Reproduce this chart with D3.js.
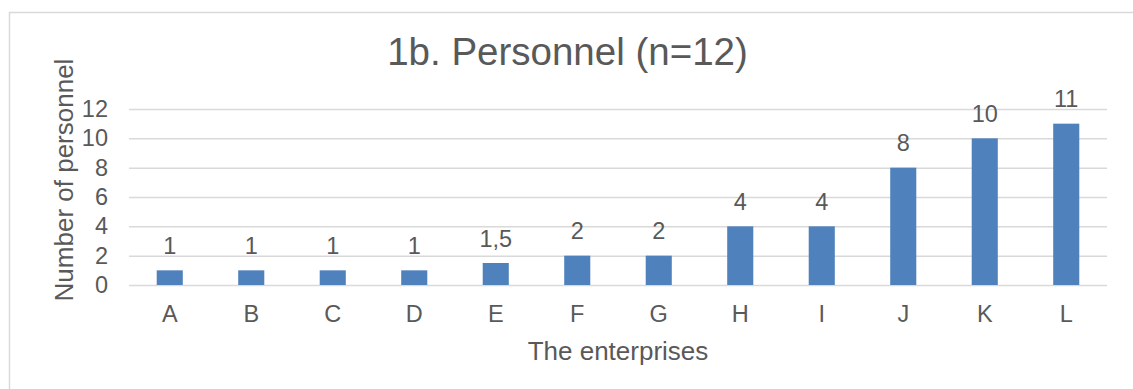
<!DOCTYPE html>
<html>
<head>
<meta charset="utf-8">
<script src="https://cdn.jsdelivr.net/npm/d3@7"></script>
<style>
  html, body { margin: 0; padding: 0; background: #fff; }
  svg { display: block; font-family: 'Liberation Sans', Arial, sans-serif; }
</style>
</head>
<body>
<div id="chart"></div>
<script>
// data
const enterprises = ['A', 'B', 'C', 'D', 'E', 'F', 'G', 'H', 'I', 'J', 'K', 'L'];
const personnel = [1, 1, 1, 1, 1.5, 2, 2, 4, 4, 8, 10, 11];
const yTicks = [0, 2, 4, 6, 8, 10, 12];
const chartTitle = '1b. Personnel (n=12)';
const xTitle = 'The enterprises';
const yTitle = 'Number of personnel';

const width = 1133, height = 389;
const margin = { top: 109, right: 26, bottom: 104, left: 129 };
const innerW = width - margin.left - margin.right;
const innerH = height - margin.top - margin.bottom;

const textColor = '#595959';
const gridColor = '#d9d9d9';
const barColor = '#4f81bd';

const svg = d3.select('#chart')
  .append('svg')
  .attr('width', width)
  .attr('height', height);

// outer frame (runs off the right and bottom edges)
svg.append('rect')
  .attr('x', 9.5).attr('y', 12.5)
  .attr('width', 1200).attr('height', 600)
  .attr('fill', 'none')
  .attr('stroke', gridColor)
  .attr('stroke-width', 1.5);

const chart = svg.append('g')
  .attr('transform', `translate(${margin.left},${margin.top})`);

const x = d3.scaleBand()
  .domain(enterprises)
  .range([0, innerW])
  .paddingInner(0.68)
  .paddingOuter(0.34);

const y = d3.scaleLinear()
  .domain([0, 12])
  .range([innerH, 0]);

// gridlines + y tick labels
const yAxis = chart.append('g')
  .call(d3.axisLeft(y).tickValues(yTicks).tickSize(-innerW).tickPadding(21).tickFormat(d3.format('d')));
yAxis.select('.domain').remove();
yAxis.selectAll('.tick line')
  .attr('stroke', gridColor)
  .attr('stroke-width', 1.5);
yAxis.selectAll('.tick text')
  .attr('fill', textColor)
  .attr('font-size', 23.5)
  .attr('font-family', 'Liberation Sans, Arial, sans-serif');

// x labels
const xAxis = chart.append('g')
  .attr('transform', `translate(0,${innerH})`)
  .call(d3.axisBottom(x).tickSize(0).tickPadding(20));
xAxis.select('.domain').remove();
xAxis.selectAll('.tick text')
  .attr('fill', textColor)
  .attr('font-size', 23.5)
  .attr('font-family', 'Liberation Sans, Arial, sans-serif');

// bars
chart.selectAll('.bar')
  .data(personnel)
  .join('rect')
  .attr('class', 'bar')
  .attr('x', (d, i) => x(enterprises[i]))
  .attr('y', d => y(d))
  .attr('width', x.bandwidth())
  .attr('height', d => y(0) - y(d))
  .attr('fill', barColor);

// value labels
const fmt = v => String(v).replace('.', ',');
chart.selectAll('.label')
  .data(personnel)
  .join('text')
  .attr('class', 'label')
  .attr('x', (d, i) => x(enterprises[i]) + x.bandwidth() / 2)
  .attr('y', d => y(d) - 16.5)
  .attr('text-anchor', 'middle')
  .attr('fill', textColor)
  .attr('font-size', 23.5)
  .text(fmt);

// titles
svg.append('text')
  .attr('x', width / 2 + 1)
  .attr('y', 65)
  .attr('text-anchor', 'middle')
  .attr('fill', textColor)
  .attr('font-size', 38.5)
  .text(chartTitle);

svg.append('text')
  .attr('x', margin.left + innerW / 2)
  .attr('y', 360)
  .attr('text-anchor', 'middle')
  .attr('fill', textColor)
  .attr('font-size', 26)
  .text(xTitle);

svg.append('text')
  .attr('transform', 'translate(73,180) rotate(-90)')
  .attr('text-anchor', 'middle')
  .attr('fill', textColor)
  .attr('font-size', 26)
  .text(yTitle);
</script>
</body>
</html>
